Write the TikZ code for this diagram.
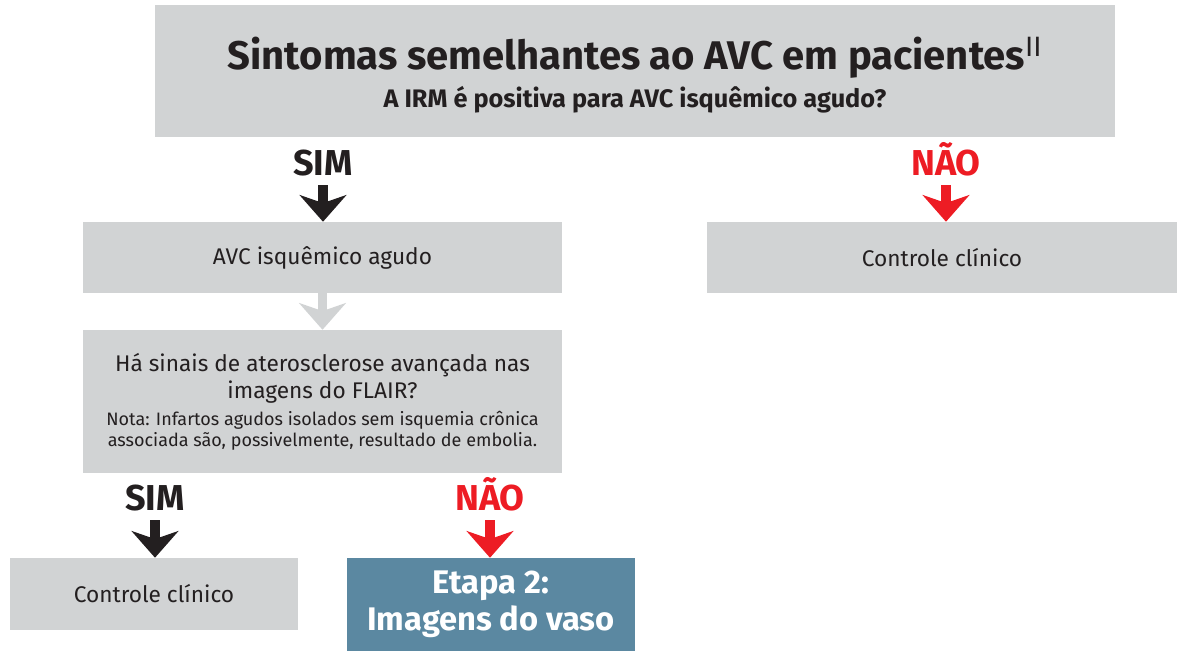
\documentclass[tikz,border=0pt]{standalone}
\usepackage{fontspec}
\setmainfont{Fira Sans}
\usetikzlibrary{arrows.meta}
\definecolor{boxgray}{HTML}{D1D3D4}
\definecolor{ink}{HTML}{231F20}
\definecolor{nored}{HTML}{ED1C24}
\definecolor{stepblue}{HTML}{5B88A1}
\newcommand{\notesize}{\fontsize{13.5}{15.75}\selectfont}
\tikzset{
  graybox/.style={fill=boxgray, text=ink, inner sep=0pt, align=center, font=\fontsize{17}{20.25}\selectfont},
  yeslabel/.style={text=ink, font=\fontsize{27}{30}\selectfont\bfseries, inner sep=1pt, anchor=base},
  nolabel/.style={text=nored, font=\fontsize{27}{30}\selectfont\bfseries, inner sep=1pt, anchor=base},
  downarrow/.style={line width=7pt, -{Stealth[length=20pt,width=35pt,inset=6pt]}},
}

\begin{document}
\begin{tikzpicture}[x=0.75pt, y=-0.75pt]
		%%%%% START %%%%%
		\useasboundingbox (0, 0) rectangle (1177, 651);
		
		\node[graybox, minimum width=720pt, minimum height=99pt] (top) at (635, 71) {};
		\node[text=ink, anchor=base, inner sep=0pt, font=\fontsize{30}{33}\selectfont\bfseries] (title) at (635, 69)
			{Sintomas semelhantes ao AVC em pacientes\textsuperscript{\mdseries II}};
		\node[text=ink, anchor=base, inner sep=0pt, font=\fontsize{19}{22}\selectfont\bfseries] (question) at (635, 107)
			{A IRM é positiva para AVC isquêmico agudo?};
		
		\node[yeslabel] (sim) at (323, 175) {SIM};
		\node[nolabel] (nao) at (946, 175) {NÃO};
		
		\node[graybox, minimum width=359.25pt, minimum height=53.25pt] (acute) at (322.5, 257.5) {AVC isquêmico agudo};
		\node[graybox, minimum width=352.5pt, minimum height=53.25pt] (clinic) at (942, 257.5) {Controle clínico};
		
		\draw[downarrow, ink, shorten <=6pt] (sim.south) -- (sim.south |- acute.north);
		\draw[downarrow, nored, shorten <=6pt] (nao.south) -- (nao.south |- clinic.north);
		
		\node[graybox, minimum width=359.25pt, minimum height=107.25pt] (flair) at (322.5, 401.5)
			{Há sinais de aterosclerose avançada nas\\ imagens do FLAIR?\\
			 \notesize Nota: Infartos agudos isolados sem isquemia crônica\\[-4.5pt]
			 \notesize associada são, possivelmente, resultado de embolia.};
		
		\draw[downarrow, boxgray] (acute.south) -- (flair.north);
		
		\node[yeslabel] (simb) at (155, 510) {SIM};
		\node[nolabel] (naob) at (490, 510) {NÃO};
		
		\node[graybox, minimum width=216pt, minimum height=54pt] (clinicb) at (154, 594) {Controle clínico};
		\node[graybox, fill=stepblue, text=white, minimum width=216pt, minimum height=69.75pt, font=\fontsize{24.5}{27.75}\selectfont\bfseries] (vessel) at (491, 604.5)
			{Etapa 2:\\ Imagens do vaso};
		
		\draw[downarrow, ink, shorten <=6pt] (simb.south) -- (simb.south |- clinicb.north);
		\draw[downarrow, nored, shorten <=6pt] (naob.south) -- (naob.south |- vessel.north);
		
		%%%%% END %%%%%
\end{tikzpicture}
\end{document}
